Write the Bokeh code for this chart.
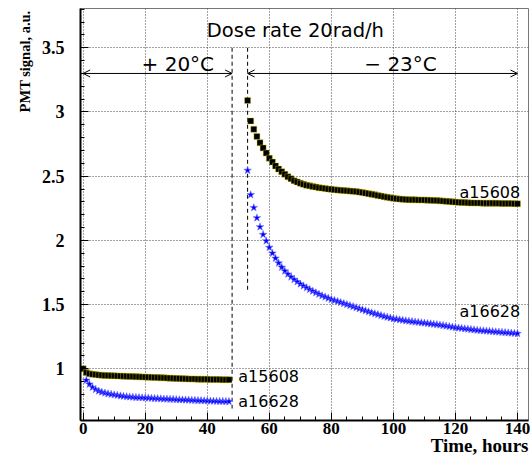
from bokeh.plotting import figure
from bokeh.models import Range1d, Label, Arrow, OpenHead, FixedTicker, Title
from bokeh.embed import file_html
from bokeh.resources import INLINE

# ---------------- data ----------------
# Segment 1: +20 C
hours_a15608_1 = list(range(0, 48))
a15608_1 = [1.000, 0.970, 0.962, 0.958, 0.955, 0.952, 0.950, 0.948, 0.947, 0.946,
            0.945, 0.944, 0.943, 0.942, 0.941, 0.940, 0.939, 0.938, 0.937, 0.936,
            0.935, 0.934, 0.933, 0.932, 0.931, 0.930, 0.929, 0.928, 0.927, 0.926,
            0.925, 0.924, 0.923, 0.922, 0.921, 0.920, 0.920, 0.919, 0.919, 0.918,
            0.918, 0.917, 0.917, 0.916, 0.916, 0.915, 0.915, 0.915]
hours_a16628_1 = list(range(1, 48))
a16628_1 = [0.910, 0.880, 0.855, 0.838, 0.826, 0.818, 0.811, 0.806, 0.801,
            0.797, 0.793, 0.789, 0.786, 0.783, 0.781, 0.779, 0.777, 0.776, 0.774,
            0.773, 0.772, 0.770, 0.769, 0.768, 0.767, 0.765, 0.764, 0.763, 0.762,
            0.760, 0.759, 0.758, 0.757, 0.756, 0.755, 0.754, 0.753, 0.752, 0.751,
            0.750, 0.749, 0.748, 0.747, 0.746, 0.746, 0.745, 0.745]

# Segment 2: -23 C
hours_2 = list(range(53, 141))
a15608_2 = [3.090, 2.930, 2.865, 2.810, 2.760, 2.720, 2.680, 2.640, 2.610, 2.580,
            2.555, 2.535, 2.515, 2.495, 2.480, 2.465, 2.455, 2.445, 2.437, 2.430,
            2.425, 2.420, 2.415, 2.410, 2.407, 2.404, 2.400, 2.398, 2.395, 2.392,
            2.390, 2.388, 2.386, 2.384, 2.382, 2.380, 2.376, 2.372, 2.368, 2.364,
            2.360, 2.355, 2.350, 2.345, 2.340, 2.336, 2.332, 2.328, 2.325, 2.322,
            2.320, 2.318, 2.317, 2.316, 2.316, 2.315, 2.315, 2.314, 2.313, 2.312,
            2.311, 2.310, 2.308, 2.306, 2.304, 2.302, 2.300, 2.298, 2.296, 2.295,
            2.294, 2.293, 2.292, 2.292, 2.291, 2.291, 2.290, 2.290, 2.290, 2.290,
            2.289, 2.289, 2.288, 2.288, 2.287, 2.287, 2.286, 2.285]
a16628_2 = [2.545, 2.355, 2.255, 2.175, 2.105, 2.045, 1.995, 1.945, 1.900, 1.860,
            1.823, 1.790, 1.762, 1.737, 1.715, 1.695, 1.677, 1.660, 1.645, 1.631,
            1.617, 1.604, 1.592, 1.580, 1.569, 1.559, 1.549, 1.540, 1.532, 1.524,
            1.516, 1.508, 1.500, 1.492, 1.484, 1.476, 1.468, 1.460, 1.452, 1.444,
            1.436, 1.429, 1.422, 1.415, 1.408, 1.402, 1.396, 1.390, 1.386, 1.382,
            1.378, 1.374, 1.371, 1.368, 1.365, 1.362, 1.359, 1.356, 1.353, 1.350,
            1.347, 1.344, 1.341, 1.337, 1.333, 1.329, 1.325, 1.321, 1.318, 1.315,
            1.312, 1.309, 1.306, 1.303, 1.300, 1.298, 1.296, 1.294, 1.292, 1.290,
            1.288, 1.286, 1.284, 1.282, 1.280, 1.278, 1.276, 1.274]

x_ticks = [0, 20, 40, 60, 80, 100, 120, 140]
y_ticks = [1.0, 1.5, 2.0, 2.5, 3.0, 3.5]
boundary_hours = [48, 53]
arrow_level = 3.3

# ---------------- figure ----------------
p = figure(width=532, height=458,
           x_range=Range1d(-0.87, 143.55), y_range=Range1d(0.597, 3.806),
           output_backend="svg", toolbar_location=None,
           min_border_left=80, min_border_right=4, min_border_top=8, min_border_bottom=38)
p.background_fill_color = "white"
p.border_fill_color = "white"
p.outline_line_color = "#777777"
p.outline_line_width = 1

# axes
p.xaxis.ticker = FixedTicker(ticks=x_ticks, minor_ticks=list(range(0, 145, 5)))
p.yaxis.ticker = FixedTicker(ticks=y_ticks, minor_ticks=[round(0.6 + 0.1 * i, 2) for i in range(33)])
for ax in (p.xaxis[0], p.yaxis[0]):
    ax.axis_line_width = 2
    ax.axis_line_color = "black"
    ax.major_tick_in = 8
    ax.major_tick_out = 0
    ax.minor_tick_in = 4
    ax.minor_tick_out = 0
    ax.major_tick_line_width = 1
    ax.minor_tick_line_width = 1
    ax.major_label_text_font = "Liberation Serif"
    ax.major_label_text_font_style = "bold"
    ax.major_label_text_font_size = "18px"
    ax.major_label_text_color = "black"
p.xaxis.major_label_text_font_size = "17px"
p.xaxis.major_label_standoff = 2
p.yaxis.major_label_standoff = 16
p.yaxis.major_label_overrides = {1.0: "1", 1.5: "1.5", 2.0: "2", 2.5: "2.5", 3.0: "3", 3.5: "3.5"}

# axis titles as panel titles, aligned at the ends of the axes
p.add_layout(Title(text="Time, hours", align="right", text_font="Liberation Serif",
                   text_font_style="bold", text_font_size="19px", text_color="black",
                   text_line_height=0.9, standoff=-8, offset=0), "below")
p.add_layout(Title(text="PMT signal, a.u.", align="right", text_font="Liberation Serif",
                   text_font_style="bold", text_font_size="14.5px", text_color="black",
                   standoff=12, offset=2), "left")

# grids
for g in (p.xgrid[0], p.ygrid[0]):
    g.grid_line_color = "#444444"
    g.grid_line_dash = "1 2"
    g.grid_line_width = 1

# boundary dashed lines
p.segment(x0=[boundary_hours[0], boundary_hours[1]], y0=[3.5, 3.5],
          x1=[boundary_hours[0], boundary_hours[1]], y1=[0.69, 1.6],
          line_color="black", line_dash="4 3", line_width=1)

# arrows
p.add_layout(Arrow(x_start=0, y_start=arrow_level, x_end=boundary_hours[0], y_end=arrow_level,
                   start=OpenHead(size=7, line_width=1), end=OpenHead(size=7, line_width=1),
                   line_width=1))
p.add_layout(Arrow(x_start=boundary_hours[1], y_start=arrow_level, x_end=140, y_end=arrow_level,
                   start=OpenHead(size=7, line_width=1), end=OpenHead(size=7, line_width=1),
                   line_width=1))

# data
p.scatter(hours_a15608_1, a15608_1, marker="square", size=6, fill_color="black",
          line_color="#d8cc00", line_width=0.4)
p.scatter(hours_2, a15608_2, marker="square", size=6, fill_color="black",
          line_color="#d8cc00", line_width=0.4)
p.scatter(hours_a16628_1, a16628_1, marker="star", size=8, fill_color="#0000ff",
          line_color="#7070ff", line_width=0.6)
p.scatter(hours_2, a16628_2, marker="star", size=8, fill_color="#0000ff",
          line_color="#7070ff", line_width=0.6)

# texts
def add_text(x, y, txt, size, align="left", baseline="middle"):
    p.add_layout(Label(x=x, y=y, text=txt, text_font="DejaVu Sans", text_font_size=size,
                       text_align=align, text_baseline=baseline, text_color="black"))

add_text(68.4, 3.635, "Dose rate 20rad/h", "19.5px", align="center")
add_text(30.5, 3.37, "+ 20°C", "20px", align="center")
add_text(102.3, 3.37, "\u2212 23°C", "20px", align="center")
add_text(50.0, 0.94, "a15608", "16px")
add_text(50.0, 0.745, "a16628", "16px")
add_text(121.3, 2.373, "a15608", "16px")
add_text(121.3, 1.449, "a16628", "16px")

open("out.html", "w").write(file_html(p, INLINE))
